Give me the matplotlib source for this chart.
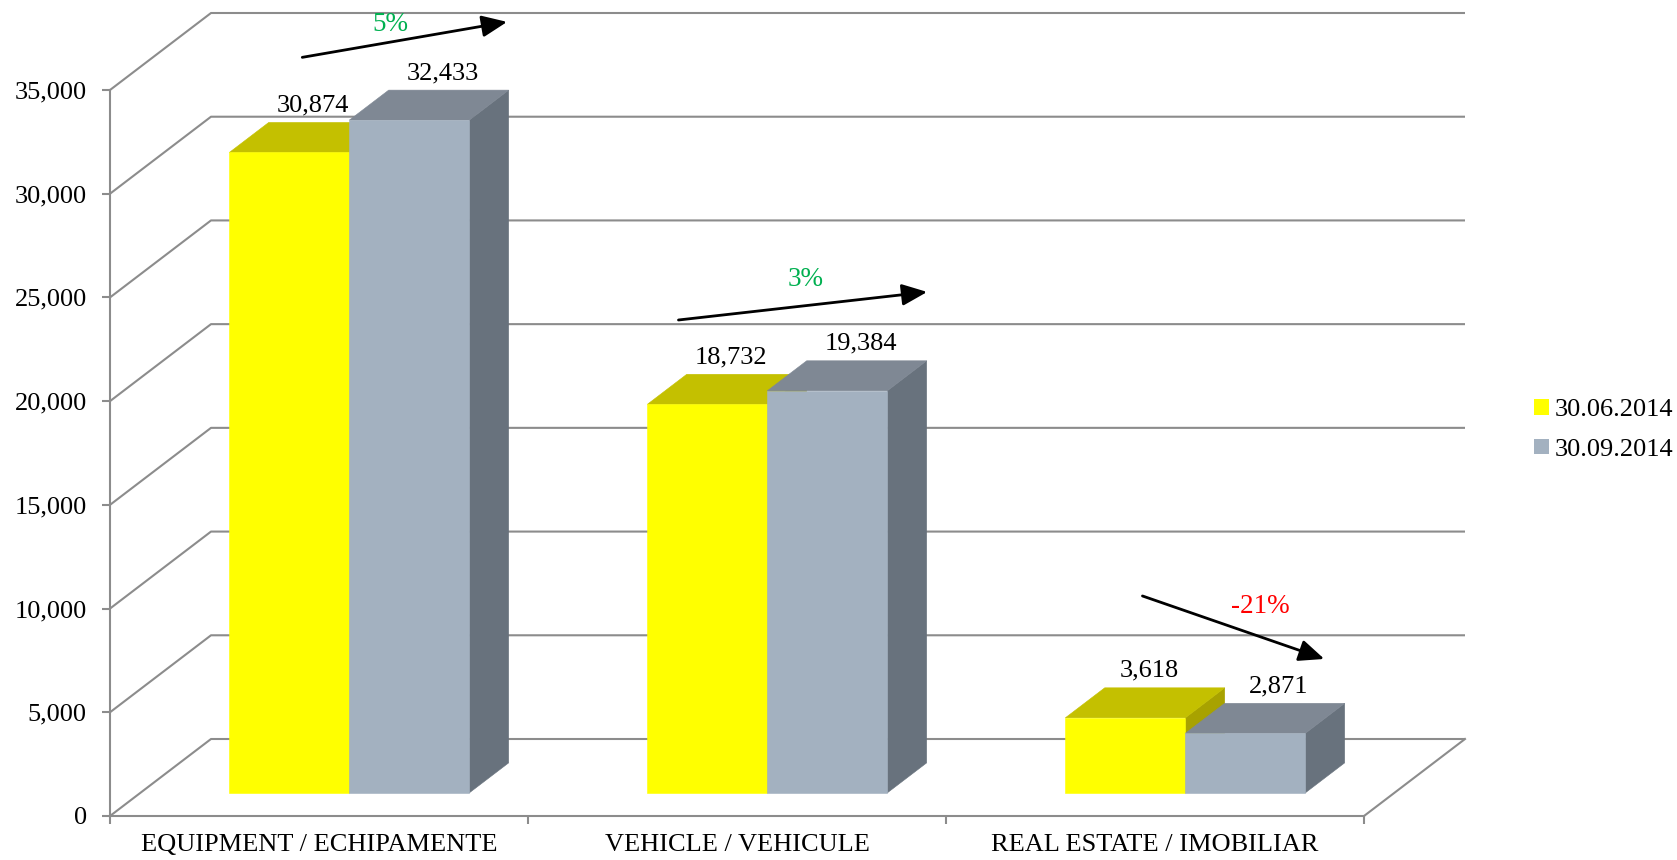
import matplotlib.pyplot as plt
from matplotlib.patches import Polygon, Patch

plt.rcParams['font.family'] = ['Liberation Serif', 'DejaVu Serif']

# data
categories = ['EQUIPMENT / ECHIPAMENTE', 'VEHICLE / VEHICULE', 'REAL ESTATE / IMOBILIAR']
series = ['30.06.2014', '30.09.2014']
jun = [30874, 18732, 3618]
sep = [32433, 19384, 2871]
yticks = [0, 5000, 10000, 15000, 20000, 25000, 30000, 35000]

# hand drawn arrows (x inside category, lift above the bar value)
arrow_x0 = [0.46, 0.36, 0.47]
arrow_x1 = [0.95, 0.955, 0.905]
arrow_lift0 = [5700, 5180, 6990]
arrow_lift1 = [5850, 5880, 4700]
pct_dx = [-0.034, 0.006, 0.064]
pct_dv = [750, 1300, 990]

# colours: front, top, side
yellow = ['#FFFF00', '#C4C000', '#A8A200']
grey = ['#A3B1C0', '#7F8894', '#68727D']
gridc = '#8C8C8C'

W, H = 1677, 860
fig = plt.figure(figsize=(W / 100, H / 100), dpi=100)
ax = fig.add_axes([110 / W, (H - 816) / H, (1364 - 110) / W, (816 - 90) / H])
ax.set_xlim(0, 3)
ax.set_ylim(0, 35000)

# depth vector of the floor in data units
px_x = (1364 - 110) / 3
px_v = (816 - 90) / 35000
DX = 101 / px_x
DY = 77 / px_v


def P(x, v, z):
    return (x + z * DX, v + z * DY)


# walls
for v in yticks:
    ax.plot([0, DX, 3 + DX], [v, v + DY, v + DY], color=gridc, lw=1.5,
            clip_on=False, zorder=1, solid_capstyle='butt')
ax.plot([3, 3 + DX], [0, DY], color=gridc, lw=1.5, clip_on=False, zorder=1)

# bars
bw = 0.287
z0, z1 = 0.30, 0.69


def bar3d(x0, v, cols):
    x1 = x0 + bw
    front = [P(x0, 0, z0), P(x1, 0, z0), P(x1, v, z0), P(x0, v, z0)]
    top = [P(x0, v, z0), P(x1, v, z0), P(x1, v, z1), P(x0, v, z1)]
    side = [P(x1, 0, z0), P(x1, 0, z1), P(x1, v, z1), P(x1, v, z0)]
    for pts, c in [(side, cols[2]), (top, cols[1]), (front, cols[0])]:
        ax.add_patch(Polygon(pts, closed=True, facecolor=c, edgecolor=c,
                             lw=0.4, zorder=3, clip_on=False))


label_dx = [3, 10]  # points
for i in range(len(categories)):
    for s, (vals, cols) in enumerate([(jun, yellow), (sep, grey)]):
        x0 = i + 0.5 - bw + s * bw
        bar3d(x0, vals[i], cols)
        cx, cv = P(x0 + bw / 2, vals[i], (z0 + z1) / 2)
        ax.annotate(f'{vals[i]:,}', (cx, cv), xytext=(label_dx[s], 23),
                    textcoords='offset points', ha='center', va='center',
                    fontsize=19, zorder=5, annotation_clip=False)

    # change arrows
    start = (i + arrow_x0[i], jun[i] + arrow_lift0[i])
    end = (i + arrow_x1[i], sep[i] + arrow_lift1[i])
    ax.annotate('', xy=end, xytext=start,
                arrowprops=dict(arrowstyle='-|>,head_length=0.7,head_width=0.3',
                                color='black', lw=2, mutation_scale=22,
                                shrinkA=0, shrinkB=0),
                annotation_clip=False, zorder=6)
    pct = round((sep[i] / jun[i] - 1) * 100)
    ax.text((start[0] + end[0]) / 2 + pct_dx[i],
            (start[1] + end[1]) / 2 + pct_dv[i],
            f'{pct}%', color='#00B050' if pct > 0 else '#FF0000',
            ha='center', va='center', fontsize=19.5, zorder=6)

# axes styling
for sp in ['top', 'right']:
    ax.spines[sp].set_visible(False)
for sp in ['left', 'bottom']:
    ax.spines[sp].set_color(gridc)
    ax.spines[sp].set_linewidth(1.5)
    ax.spines[sp].set_zorder(2)
ax.set_yticks(yticks)
ax.set_yticklabels([f'{v:,}' for v in yticks])
ax.set_xticks([0, 1, 2, 3])
ax.set_xticklabels([])
ax.set_xticks([i + 0.5 for i in range(3)], minor=True)
ax.set_xticklabels(categories, minor=True)
ax.tick_params(axis='both', which='major', direction='out', length=5.8,
               width=1.5, color=gridc, labelsize=19)
ax.tick_params(axis='y', pad=11)
ax.tick_params(axis='x', which='minor', length=0, pad=13, labelsize=19)
ax.patch.set_visible(False)

handles = [Patch(facecolor=yellow[0]), Patch(facecolor=grey[0])]
fig.legend(handles, series, loc='center left', bbox_to_anchor=(1534 / W, 1 - 430 / H),
           frameon=False, fontsize=19, handlelength=0.55, handleheight=0.55,
           handletextpad=0.25, labelspacing=0.65, borderpad=0, borderaxespad=0)

fig.savefig('out.png', dpi=100)
